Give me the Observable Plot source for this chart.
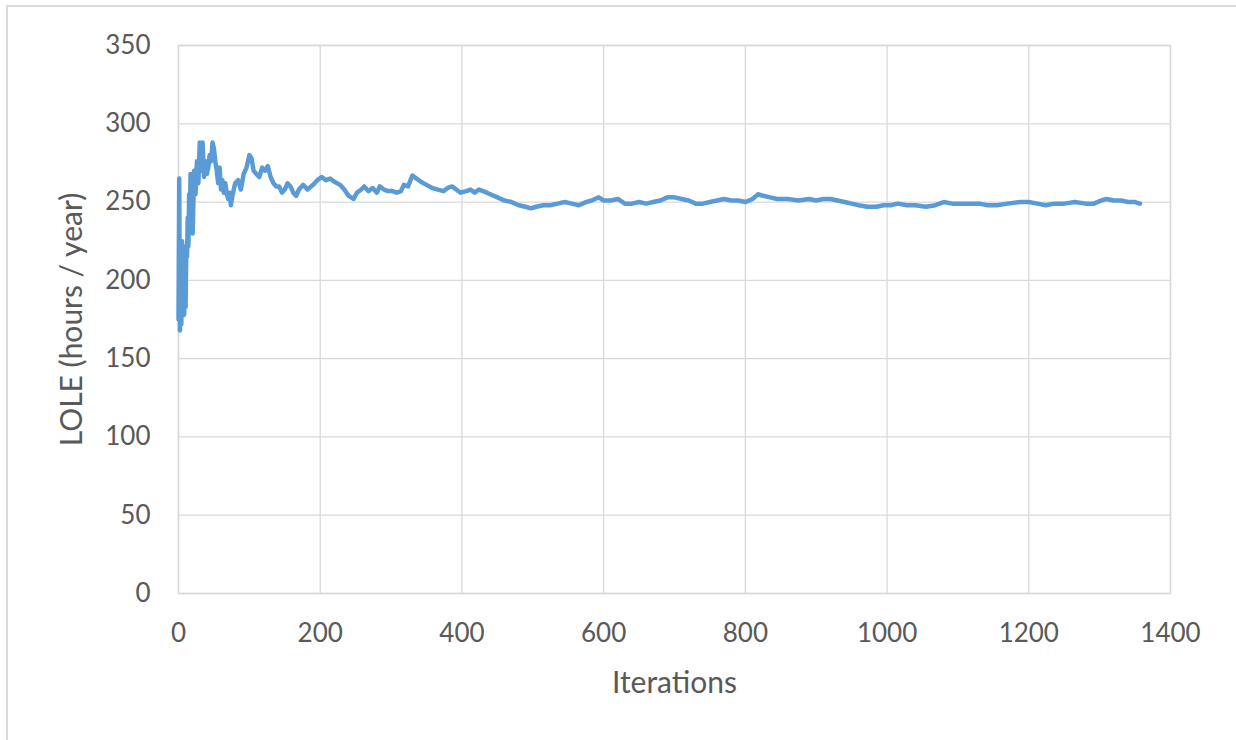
<!DOCTYPE html>
<html>
<head>
<meta charset="utf-8">
<script src="https://cdn.jsdelivr.net/npm/d3@7"></script>
<script src="https://cdn.jsdelivr.net/npm/@observablehq/plot@0.6"></script>
<style>
  html, body { margin: 0; padding: 0; background: #fff; }
  #wrap { position: relative; width: 1236px; height: 740px; overflow: hidden; }
  #border { position: absolute; left: 6px; top: 5px; width: 1300px; height: 800px;
            border-top: 2px solid #d9d9d9; border-left: 2px solid #d9d9d9; box-sizing: border-box; }
  #chart { position: absolute; left: 0; top: 0; }
</style>
</head>
<body>
<div id="wrap"><div id="border"></div><div id="chart"></div></div>
<script>
const iterations = [0,1,2,3,4,5,6,7,8,9,10,11,12,13,14,15,16,17,18,19,20,22,24,26,28,30,32,34,36,38,40,42,44,46,48,50,52,54,56,58,60,62,64,66,68,70,72,74,76,78,80,84,88,92,96,100,103,106,110,114,118,122,126,130,134,138,142,146,150,154,158,162,166,170,176,182,190,196,202,208,214,220,228,234,240,247,252,258,262,268,274,280,284,290,296,302,308,314,318,324,330,336,342,350,358,366,374,380,386,392,398,406,412,418,424,430,440,450,460,470,480,490,497,505,515,525,535,545,555,565,575,583,593,600,610,620,630,640,650,660,670,680,690,700,710,720,730,740,750,760,770,780,790,800,810,818,825,835,845,860,875,890,900,910,920,930,940,950,960,972,985,995,1005,1015,1028,1040,1055,1068,1080,1092,1104,1116,1130,1142,1155,1170,1188,1200,1212,1224,1236,1250,1265,1280,1292,1302,1310,1320,1330,1340,1350,1357];
const lole = [175,265,168,205,172,225,180,222,178,200,183,222,215,240,222,255,232,268,238,262,230,270,255,276,262,288,270,288,266,276,268,272,280,276,288,284,276,270,262,272,258,264,256,262,256,252,256,248,254,258,262,264,258,268,272,280,278,270,268,266,272,270,273,266,262,260,260,256,258,262,260,256,254,258,261,258,261,264,266,264,265,263,261,258,254,252,256,258,260,257,259,256,260,258,257,257,256,257,261,260,267,265,263,261,259,258,257,259,260,258,256,257,258,256,258,257,255,253,251,250,248,247,246,247,248,248,249,250,249,248,250,251,253,251,251,252,249,249,250,249,250,251,253,253,252,251,249,249,250,251,252,251,251,250,252,255,254,253,252,252,251,252,251,252,252,251,250,249,248,247,247,248,248,249,248,248,247,248,250,249,249,249,249,248,248,249,250,250,249,248,249,249,250,249,249,251,252,251,251,250,250,249];
const xTicks = [0,200,400,600,800,1000,1200,1400];
const yTicks = [0,50,100,150,200,250,300,350];
const xTitle = "Iterations";
const yTitle = "LOLE (hours / year)";

const data = iterations.map((it, i) => ({it, v: lole[i]}));
const textColor = "#595959";
const gridColor = "#d9d9d9";

const chart = Plot.plot({
  width: 1236,
  height: 740,
  marginLeft: 178,
  marginRight: 66,
  marginTop: 45,
  marginBottom: 147,
  style: {fontFamily: "Lato, 'Open Sans', sans-serif", color: textColor, background: "transparent"},
  x: {domain: [0, 1400], ticks: xTicks},
  y: {domain: [0, 350], ticks: yTicks},
  marks: [
    Plot.gridX(xTicks, {stroke: gridColor, strokeOpacity: 1, strokeWidth: 1.3}),
    Plot.gridY(yTicks, {stroke: gridColor, strokeOpacity: 1, strokeWidth: 1.3}),
    Plot.frame({stroke: gridColor, strokeWidth: 1.5}),
    Plot.axisX(xTicks, {tickSize: 0, tickPadding: 30, fontSize: 26, fill: textColor, label: null, tickFormat: d => String(d)}),
    Plot.axisY(yTicks, {tickSize: 0, tickPadding: 28, fontSize: 26, fill: textColor, label: null, tickFormat: d => String(d)}),
    Plot.line(data, {x: "it", y: "v", stroke: "#5b9bd5", strokeWidth: 4.5, strokeLinejoin: "round", strokeLinecap: "round"}),
    Plot.text([xTitle], {frameAnchor: "bottom", dy: 90, fontSize: 30, fill: textColor, lineAnchor: "middle", textAnchor: "middle"}),
    Plot.text([yTitle], {frameAnchor: "left", dx: -106, rotate: -90, fontSize: 30, fill: textColor, lineAnchor: "middle", textAnchor: "middle"})
  ]
});
document.getElementById("chart").appendChild(chart);
</script>
</body>
</html>
